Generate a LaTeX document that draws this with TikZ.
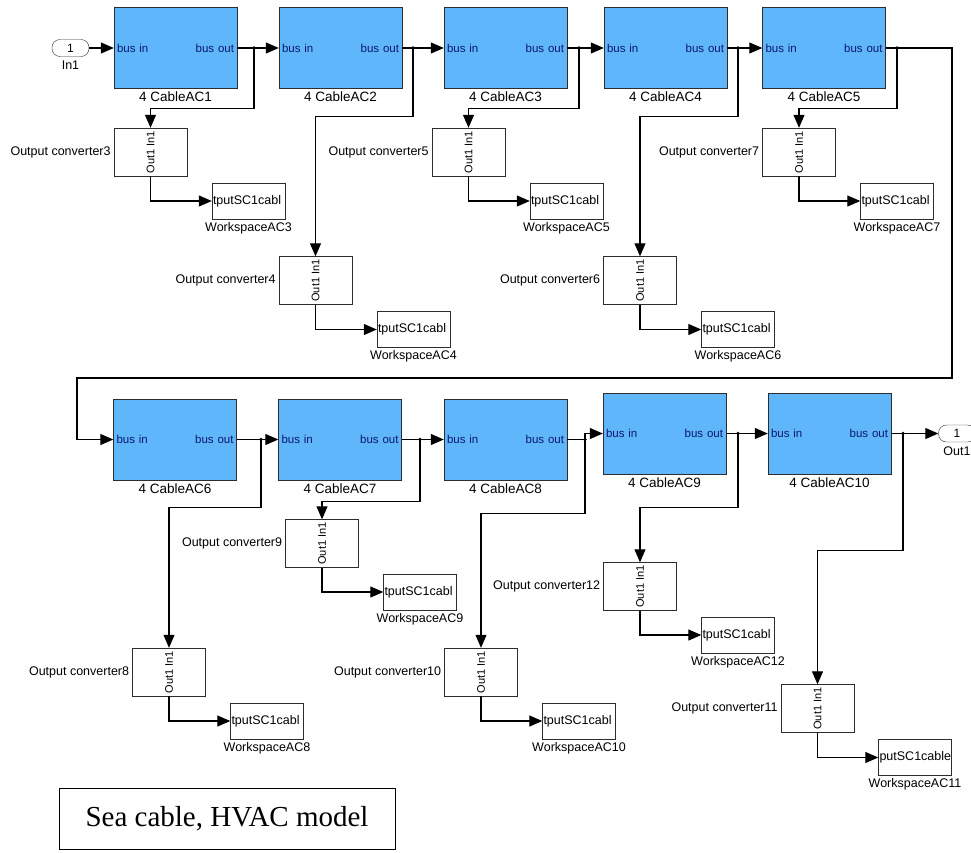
\documentclass[tikz,border=0pt]{standalone}
\usepackage{fontspec}
\setmainfont{Liberation Serif}
\newfontfamily\simfont{Liberation Sans}
\definecolor{cableblue}{RGB}{96,182,250}
\definecolor{busblue}{RGB}{10,25,110}
\definecolor{edgegray}{RGB}{45,45,45}
\usetikzlibrary{positioning, arrows.meta}

\begin{document}
\begin{tikzpicture}[x=1pt, y=-1pt,
  cable/.style={draw=edgegray, fill=cableblue, minimum width=123pt,
    minimum height=81pt, inner xsep=3pt, inner ysep=0pt, text width=117pt,
    align=left, text=busblue, font=\simfont\fontsize{11.5}{13}\selectfont},
  conv/.style={draw=edgegray, minimum width=73pt, minimum height=48pt,
    inner sep=0pt, font=\simfont\fontsize{11}{12}\selectfont},
  wksp/.style={draw=edgegray, minimum width=73pt, minimum height=36pt,
    inner xsep=1pt, inner ysep=0pt, text width=71pt, align=left,
    font=\simfont\fontsize{12.5}{13}\selectfont},
  port/.style={draw=edgegray, rounded corners=8pt, minimum width=37pt,
    minimum height=17pt, inner sep=0pt, font=\simfont\fontsize{12}{12}\selectfont},
  lbl/.style={inner sep=1pt, font=\simfont\fontsize{12.5}{13}\selectfont},
  cablbl/.style={inner sep=1pt, font=\simfont\fontsize{13.5}{14}\selectfont},
  wire/.style={-{Triangle[length=13pt,width=11pt]}, line width=1.1pt},
]
\useasboundingbox (0,0) rectangle (971,852);

% ports
\node[port] (in1) at (70.5,48) {1};
\node[lbl, below=3pt of in1] (in1t) {In1};
\node[port] (out1) at (957,433.5) {1};
\node[lbl, below=3pt of out1] (out1t) {Out1};

% cable sections, first row
\node[cable] (c1) at (175.5,48) {bus in\hfill bus out};
\node[cable] (c2) at (340.5,48) {bus in\hfill bus out};
\node[cable] (c3) at (505.5,48) {bus in\hfill bus out};
\node[cable] (c4) at (665.5,48) {bus in\hfill bus out};
\node[cable] (c5) at (824,48) {bus in\hfill bus out};
% second row
\node[cable] (c6) at (175,439.5) {bus in\hfill bus out};
\node[cable] (c7) at (340,439.5) {bus in\hfill bus out};
\node[cable] (c8) at (505.5,439.5) {bus in\hfill bus out};
\node[cable] (c9) at (664.5,433.5) {bus in\hfill bus out};
\node[cable] (c10) at (829.5,433.5) {bus in\hfill bus out};

\node[cablbl, below=2pt of c1] (c1t) {4 CableAC1};
\node[cablbl, below=2pt of c2] (c2t) {4 CableAC2};
\node[cablbl, below=2pt of c3] (c3t) {4 CableAC3};
\node[cablbl, below=2pt of c4] (c4t) {4 CableAC4};
\node[cablbl, below=2pt of c5] (c5t) {4 CableAC5};
\node[cablbl, below=2pt of c6] (c6t) {4 CableAC6};
\node[cablbl, below=2pt of c7] (c7t) {4 CableAC7};
\node[cablbl, below=2pt of c8] (c8t) {4 CableAC8};
\node[cablbl, below=2pt of c9] (c9t) {4 CableAC9};
\node[cablbl, below=2pt of c10] (c10t) {4 CableAC10};

% output converters
\node[conv] (cv3) at (150.5,152) {\rotatebox{90}{Out1 In1}};
\node[conv] (cv4) at (315.5,280.5) {\rotatebox{90}{Out1 In1}};
\node[conv] (cv5) at (468.5,152) {\rotatebox{90}{Out1 In1}};
\node[conv] (cv6) at (640,280.5) {\rotatebox{90}{Out1 In1}};
\node[conv] (cv7) at (799,152) {\rotatebox{90}{Out1 In1}};
\node[conv] (cv8) at (169,672) {\rotatebox{90}{Out1 In1}};
\node[conv] (cv9) at (322,543.5) {\rotatebox{90}{Out1 In1}};
\node[conv] (cv10) at (481,672) {\rotatebox{90}{Out1 In1}};
\node[conv] (cv11) at (817.5,708.5) {\rotatebox{90}{Out1 In1}};
\node[conv] (cv12) at (640,586.5) {\rotatebox{90}{Out1 In1}};

\node[lbl, left=2pt of cv3] (cv3t) {Output converter3};
\node[lbl, left=2pt of cv4] (cv4t) {Output converter4};
\node[lbl, left=2pt of cv5] (cv5t) {Output converter5};
\node[lbl, left=2pt of cv6] (cv6t) {Output converter6};
\node[lbl, left=2pt of cv7] (cv7t) {Output converter7};
\node[lbl, left=2pt of cv8] (cv8t) {Output converter8};
\node[lbl, left=2pt of cv9] (cv9t) {Output converter9};
\node[lbl, left=2pt of cv10] (cv10t) {Output converter10};
\node[lbl, left=2pt of cv11] (cv11t) {Output converter11};
\node[lbl, left=2pt of cv12] (cv12t) {Output converter12};

% to workspace blocks
\node[wksp] (ws3) at (248.5,201) {tputSC1cabl};
\node[wksp] (ws4) at (413.5,329.5) {tputSC1cabl};
\node[wksp] (ws5) at (566.5,201) {tputSC1cabl};
\node[wksp] (ws6) at (738,329.5) {tputSC1cabl};
\node[wksp] (ws7) at (897,201) {tputSC1cabl};
\node[wksp] (ws8) at (267,721) {tputSC1cabl};
\node[wksp] (ws9) at (420,592) {tputSC1cabl};
\node[wksp] (ws10) at (579,721) {tputSC1cabl};
\node[wksp] (ws11) at (915,757.5) {putSC1cable};
\node[wksp] (ws12) at (738,635) {tputSC1cabl};

\node[lbl, below=2pt of ws3] (ws3t) {WorkspaceAC3};
\node[lbl, below=2pt of ws4] (ws4t) {WorkspaceAC4};
\node[lbl, below=2pt of ws5] (ws5t) {WorkspaceAC5};
\node[lbl, below=2pt of ws6] (ws6t) {WorkspaceAC6};
\node[lbl, below=2pt of ws7] (ws7t) {WorkspaceAC7};
\node[lbl, below=2pt of ws8] (ws8t) {WorkspaceAC8};
\node[lbl, below=2pt of ws9] (ws9t) {WorkspaceAC9};
\node[lbl, below=2pt of ws10] (ws10t) {WorkspaceAC10};
\node[lbl, below=2pt of ws11] (ws11t) {WorkspaceAC11};
\node[lbl, below=2pt of ws12] (ws12t) {WorkspaceAC12};

% branch points
\coordinate (d1) at (254,48);
\coordinate (d2) at (413,48);
\coordinate (d3) at (579,48);
\coordinate (d4) at (738,48);
\coordinate (d5) at (897,48);
\coordinate (d6) at (261,439.5);
\coordinate (d7) at (420,439.5);
\coordinate (d8) at (585,439.5);
\coordinate (d9) at (738,433.5);
\coordinate (d10) at (903,433.5);
\coordinate (w1) at (952,378);
\coordinate (w2) at (77,378);

% main bus
\draw[wire] (in1) -- (c1);
\draw[wire] (c1) -- (c2);
\draw[wire] (c2) -- (c3);
\draw[wire] (c3) -- (c4);
\draw[wire] (c4) -- (c5);
\draw[wire] (c5.east) -| (w1) -- (w2) |- (c6.west);
\draw[wire] (c6) -- (c7);
\draw[wire] (c7) -- (c8);
\draw[wire] (c8.east) -- (d8) |- (c9.west);
\draw[wire] (c9) -- (c10);
\draw[wire] (c10) -- (out1);

% taps to the converters
\draw[wire] (d1) |- ([yshift=19pt]cv3.north) -- (cv3);
\draw[wire] (d2) |- ([yshift=140pt]cv4.north) -- (cv4);
\draw[wire] (d3) |- ([yshift=19pt]cv5.north) -- (cv5);
\draw[wire] (d4) |- ([yshift=140pt]cv6.north) -- (cv6);
\draw[wire] (d5) |- ([yshift=19pt]cv7.north) -- (cv7);
\draw[wire] (d6) |- ([yshift=140pt]cv8.north) -- (cv8);
\draw[wire] (d7) |- ([yshift=18pt]cv9.north) -- (cv9);
\draw[wire] (d8) |- ([yshift=134pt]cv10.north) -- (cv10);
\draw[wire] (d9) |- ([yshift=55pt]cv12.north) -- (cv12);
\draw[wire] (d10) |- ([yshift=134pt]cv11.north) -- (cv11);

\foreach \d in {d1,d2,d3,d4,d5,d6,d7,d8,d9,d10}
  \fill (\d) circle (1.8pt);

% converters to workspace
\draw[wire] (cv3) |- (ws3);
\draw[wire] (cv4) |- (ws4);
\draw[wire] (cv5) |- (ws5);
\draw[wire] (cv6) |- (ws6);
\draw[wire] (cv7) |- (ws7);
\draw[wire] (cv8) |- (ws8);
\draw[wire] (cv9) |- (ws9);
\draw[wire] (cv10) |- (ws10);
\draw[wire] (cv11) |- (ws11);
\draw[wire] (cv12) |- (ws12);

% caption
\node[draw, line width=1pt, minimum width=336pt, minimum height=61pt,
  font=\fontsize{29}{30}\selectfont] (title) at (227,818.5)
  {Sea cable, HVAC model};
\end{tikzpicture}
\end{document}
